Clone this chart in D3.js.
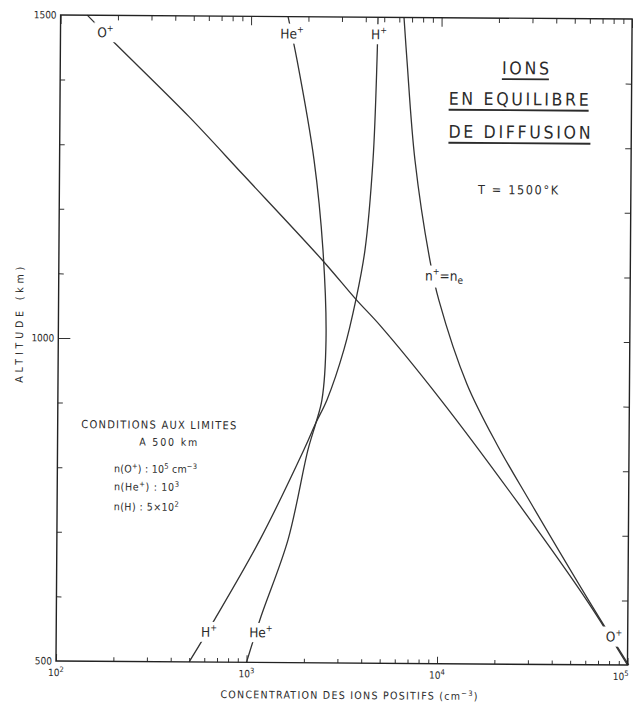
<!DOCTYPE html>
<html>
<head>
<meta charset="utf-8">
<script src="https://cdn.jsdelivr.net/npm/d3@7"></script>
<style>
html, body { margin: 0; padding: 0; background: #fff; }
svg { display: block; font-family: "DejaVu Sans Condensed", "Liberation Sans Narrow", "DejaVu Sans", sans-serif; }
</style>
</head>
<body>
<div id="chart"></div>
<script>
// values: altitude (km) / concentration (cm-3)
const altO  = [1500, 1461, 1344, 1255, 1124, 1063, 1023, 910, 752, 597, 500];
const concO = [138, 187, 476, 919, 2405, 3640, 4880, 10140, 25900, 61700, 100000];

const altHe  = [1500, 1433, 1279, 1139, 1000, 907, 872, 830, 690, 571, 500];
const concHe = [1563, 1748, 2165, 2432, 2543, 2433, 2270, 2065, 1634, 1187, 1000];

const altH  = [1500, 1433, 1279, 1139, 1063, 985, 907, 872, 830, 690, 567, 500];
const concH = [4637, 4597, 4418, 4039, 3640, 3160, 2585, 2270, 1968, 1165, 681, 500];

const altTot  = [1500, 1433, 1279, 1124, 1062, 933, 840, 752, 597, 500];
const concTot = [6348, 6607, 7338, 8873, 9929, 14030, 20260, 30330, 63000, 101500];

const xMajor = [1e2, 1e3, 1e4, 1e5];
const xExp = ['2', '3', '4', '5'];
const yLabels = [500, 1000, 1500];
const yMinor = [600, 700, 800, 900, 1100, 1200, 1300, 1400];

const W = 633, H = 702;
const L = 58.3, R = 629.8, T = 17, B = 663;
const ink = '#2b2b2b';

const x = d3.scaleLog().domain([1e2, 1e5]).range([L, R]);
const y = d3.scaleLinear().domain([500, 1500]).range([B, T]);

const xMinor = [];
for (let d = 1e2; d < 1e5; d *= 10) {
    for (let k = 2; k <= 9; k++) xMinor.push(d * k);
}

const svg = d3.select('#chart').append('svg')
    .attr('width', W)
    .attr('height', H);

// the scan is tilted a little
const g = svg.append('g').attr('transform', 'rotate(0.41,344,340)');

const line = d3.line()
    .x(d => x(d[1]))
    .y(d => y(d[0]))
    .curve(d3.curveCatmullRom.alpha(0.5));

const series = [
    d3.zip(altO, concO),
    d3.zip(altHe, concHe),
    d3.zip(altH, concH),
    d3.zip(altTot, concTot)
];

g.selectAll('path.curve')
    .data(series)
    .join('path')
    .attr('class', 'curve')
    .attr('fill', 'none')
    .attr('stroke', '#333')
    .attr('stroke-width', 1.3)
    .attr('d', line);

// curve labels, with a white patch so the curve is broken under them
function curveLabel(txt, sup, conc, alt) {
    const lg = g.append('g');
    const t = lg.append('text')
        .attr('x', x(conc))
        .attr('y', y(alt))
        .attr('text-anchor', 'middle')
        .attr('font-size', 13.5)
        .attr('fill', ink)
        .text(txt);
    t.append('tspan').attr('font-size', 9).attr('dy', -6).text(sup);
    const b = t.node().getBBox();
    lg.insert('rect', 'text')
        .attr('x', b.x - 3).attr('y', b.y - 1)
        .attr('width', b.width + 6).attr('height', b.height + 3)
        .attr('fill', '#fff');
}

curveLabel('O', '+', 172, 1466);
curveLabel('He', '+', 1643, 1466);
curveLabel('H', '+', 4704, 1466);
curveLabel('H', '+', 634, 539);
curveLabel('He', '+', 1188, 539);
curveLabel('O', '+', 84750, 536);

// n+ = ne
{
    const lg = g.append('g');
    const t = lg.append('text')
        .attr('x', x(10535)).attr('y', y(1093))
        .attr('text-anchor', 'middle')
        .attr('font-size', 13.5)
        .attr('fill', ink)
        .text('n');
    t.append('tspan').attr('font-size', 9).attr('dy', -6).text('+');
    t.append('tspan').attr('dy', 6).text('=n');
    t.append('tspan').attr('font-size', 10).attr('dy', 3).text('e');
    const b = t.node().getBBox();
    lg.insert('rect', 'text')
        .attr('x', b.x - 3).attr('y', b.y - 1)
        .attr('width', b.width + 6).attr('height', b.height + 3)
        .attr('fill', '#fff');
}

// axes
function ticks(axis, pos, vals, size) {
    const a = g.append('g')
        .attr('transform', pos)
        .call(axis.tickValues(vals).tickSize(size).tickFormat(''));
    a.select('.domain').remove();
    a.selectAll('line').attr('stroke', '#333').attr('stroke-width', 1);
}
ticks(d3.axisBottom(x), `translate(0,${B})`, xMinor, -4);
ticks(d3.axisBottom(x), `translate(0,${B})`, xMajor, -7);
ticks(d3.axisTop(x), `translate(0,${T})`, xMinor, -5);
ticks(d3.axisTop(x), `translate(0,${T})`, xMajor, -9);
ticks(d3.axisLeft(y), `translate(${L},0)`, yMinor.filter(v => v !== 1000), -5);
ticks(d3.axisLeft(y), `translate(${L},0)`, [1000], -12);
ticks(d3.axisRight(y), `translate(${R},0)`, yMinor.concat([1000]), -6);

g.append('rect')
    .attr('x', L).attr('y', T)
    .attr('width', R - L).attr('height', B - T)
    .attr('fill', 'none')
    .attr('stroke', '#222')
    .attr('stroke-width', 1.4);

g.selectAll('text.ylab')
    .data(yLabels)
    .join('text')
    .attr('class', 'ylab')
    .attr('x', L - 4)
    .attr('y', d => y(d) + 3.5)
    .attr('text-anchor', 'end')
    .attr('font-size', 10)
    .attr('fill', ink)
    .text(d => d);

// last label would run off the page: keep it inside the edge
const xl = g.selectAll('text.xlab')
    .data(xMajor)
    .join('text')
    .attr('class', 'xlab')
    .attr('x', (d, i) => i === xMajor.length - 1 ? W - 2 : x(d))
    .attr('y', B + 15)
    .attr('text-anchor', (d, i) => i === xMajor.length - 1 ? 'end' : 'middle')
    .attr('font-size', 10)
    .attr('fill', ink)
    .text('10');
xl.append('tspan')
    .attr('font-size', 7.5)
    .attr('dy', -4)
    .text((d, i) => xExp[i]);

// axis titles
const xt = g.append('text')
    .attr('x', 223).attr('y', 699)
    .attr('font-size', 10.5)
    .attr('fill', ink)
    .attr('textLength', 257)
    .attr('lengthAdjust', 'spacing')
    .text('CONCENTRATION DES IONS POSITIFS (cm');
xt.append('tspan').attr('font-size', 7.5).attr('dy', -4).text('−3');
xt.append('tspan').attr('dy', 4).text(')');

g.append('text')
    .attr('transform', 'translate(23,327) rotate(-90)')
    .attr('text-anchor', 'middle')
    .attr('font-size', 10.5)
    .attr('fill', ink)
    .attr('textLength', 116)
    .attr('lengthAdjust', 'spacing')
    .text('ALTITUDE (km)');

// title block
const titleLines = ['IONS', 'EN EQUILIBRE', 'DE DIFFUSION'];
const titleCx = [523.5, 517, 518];
const titleBase = [73, 104, 137];
const titleLen = [47, 140, 142];
titleLines.forEach((s, i) => {
    g.append('text')
        .attr('x', titleCx[i] - titleLen[i] / 2)
        .attr('y', titleBase[i])
        .attr('font-size', 17.5)
        .attr('fill', ink)
        .attr('textLength', titleLen[i])
        .attr('lengthAdjust', 'spacing')
        .text(s);
    g.append('line')
        .attr('x1', titleCx[i] - titleLen[i] / 2).attr('x2', titleCx[i] + titleLen[i] / 2)
        .attr('y1', titleBase[i] + 5).attr('y2', titleBase[i] + 5)
        .attr('stroke', ink)
        .attr('stroke-width', 1.8);
});

g.append('text')
    .attr('x', 477).attr('y', 193)
    .attr('font-size', 12.5)
    .attr('fill', ink)
    .attr('textLength', 80)
    .attr('lengthAdjust', 'spacing')
    .text('T = 1500°K');

// boundary conditions
g.append('text')
    .attr('x', 82).attr('y', 430)
    .attr('font-size', 11)
    .attr('fill', ink)
    .attr('textLength', 155)
    .attr('lengthAdjust', 'spacing')
    .text('CONDITIONS AUX LIMITES');

g.append('text')
    .attr('x', 140).attr('y', 447)
    .attr('font-size', 10.5)
    .attr('fill', ink)
    .attr('textLength', 58)
    .attr('lengthAdjust', 'spacing')
    .text('A   500 km');

function condLine(yPos, len, parts) {
    const t = g.append('text')
        .attr('x', 115).attr('y', yPos)
        .attr('font-size', 10.5)
        .attr('fill', ink)
        .attr('textLength', len)
        .attr('lengthAdjust', 'spacing');
    parts.forEach(p => {
        t.append('tspan')
            .attr('font-size', p[1] ? 7.5 : 10.5)
            .attr('dy', p[1] ? -4 : (p[2] ? 4 : 0))
            .text(p[0]);
    });
}
condLine(474, 83, [['n(O'], ['+', true], [') : 10', false, true], ['5', true], [' cm', false, true], ['−3', true]]);
condLine(492, 65, [['n(He'], ['+', true], [') : 10', false, true], ['3', true]]);
condLine(512, 65, [['n(H) : 5×10'], ['2', true]]);
</script>
</body>
</html>
